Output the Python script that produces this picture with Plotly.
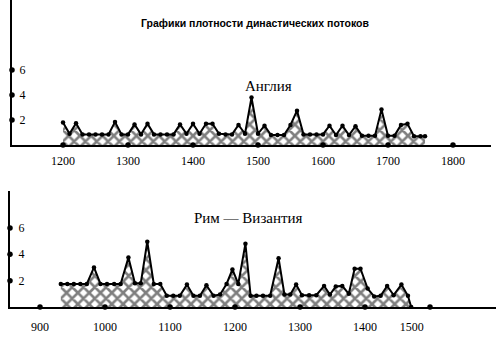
import plotly.graph_objects as go

# --- Англия: density of dynastic flows ---
eng_years = [1200, 1210, 1220, 1230, 1240, 1250, 1260, 1270, 1280, 1290,
             1300, 1310, 1320, 1330, 1340, 1350, 1360, 1370, 1380, 1390,
             1400, 1410, 1420, 1430, 1440, 1450, 1460, 1470, 1480, 1490,
             1500, 1510, 1520, 1530, 1540, 1550, 1560, 1570, 1580, 1590,
             1600, 1610, 1620, 1630, 1640, 1650, 1660, 1670, 1680, 1690,
             1700, 1710, 1720, 1730, 1740, 1750, 1757]
eng_vals = [1.8, 0.9, 1.75, 0.85, 0.85, 0.85, 0.85, 0.85, 1.85, 0.85,
            0.85, 1.65, 0.85, 1.7, 0.85, 0.85, 0.85, 0.85, 1.65, 0.9,
            1.7, 0.9, 1.7, 1.7, 0.9, 0.85, 0.85, 1.6, 0.9, 3.8,
            0.9, 1.55, 0.8, 0.8, 0.8, 1.6, 2.75, 0.85, 0.85, 0.85,
            0.85, 1.55, 0.8, 1.55, 0.8, 1.5, 0.75, 0.75, 0.75, 2.85,
            0.75, 0.75, 1.6, 1.7, 0.7, 0.7, 0.7]

# --- Рим — Византия ---
byz_years = [932, 942, 952, 962, 972, 983, 993, 1003, 1014, 1024,
             1036, 1046, 1055, 1065, 1075, 1085, 1095, 1105, 1115, 1126,
             1136, 1146, 1156, 1167, 1177, 1187, 1196, 1205, 1216, 1224,
             1233, 1243, 1254, 1267, 1276, 1285, 1294, 1303, 1314, 1325,
             1337, 1346, 1355, 1365, 1375, 1384, 1393, 1404, 1414, 1424,
             1434, 1444, 1456, 1466, 1471]
byz_vals = [1.75, 1.75, 1.75, 1.75, 1.75, 3.0, 1.75, 1.75, 1.75, 1.75,
            3.75, 1.8, 1.8, 4.95, 1.75, 1.75, 0.85, 0.85, 0.85, 1.7,
            0.85, 0.85, 1.65, 0.85, 0.95, 1.75, 2.85, 1.75, 4.8, 0.85,
            0.85, 0.85, 0.85, 3.7, 0.95, 0.95, 1.7, 0.9, 0.9, 0.9,
            1.6, 0.95, 1.55, 1.6, 1.0, 2.9, 2.9, 1.4, 0.8, 0.85,
            1.6, 0.9, 1.7, 0.85, 0.0]

# Axis ticks
eng_ticks = [1200, 1300, 1400, 1500, 1600, 1700, 1800]
byz_tick_dots = [900, 1000, 1100, 1200, 1300, 1400, 1500]
byz_label_vals = [900, 1000, 1100, 1200, 1300, 1400, 1472]
byz_label_text = ["900", "1000", "1100", "1200", "1300", "1400", "1500"]
y_ticks = [2, 4, 6]

title_text = "Графики плотности династических потоков"
eng_name = "Англия"
byz_name = "Рим — Византия"

W, H = 500, 338
TOP_X = [1121.5, 1858.5]
BOT_X = [853.8, 1601.5]
TOP_Y = [0, 11.6]
BOT_Y = [0, 8.8]

hatch = dict(shape="x", size=8, solidity=0.55, fgcolor="black", bgcolor="white")
serif = "Liberation Serif"

fig = go.Figure()


def density_trace(xs, ys, xa, ya):
    return go.Scatter(
        x=xs, y=ys, xaxis=xa, yaxis=ya, mode="lines+markers",
        fill="tozeroy", fillcolor="white", fillpattern=hatch,
        line=dict(color="black", width=2),
        marker=dict(size=4.5, color="black"),
        hoverinfo="skip", showlegend=False,
    )


fig.add_trace(density_trace(eng_years, eng_vals, "x", "y"))
fig.add_trace(density_trace(byz_years, byz_vals, "x2", "y2"))

# dots marking the axis divisions
dot = dict(size=5.5, color="black")
fig.add_trace(go.Scatter(x=eng_ticks, y=[0] * len(eng_ticks), xaxis="x", yaxis="y",
                         mode="markers", marker=dot, cliponaxis=False,
                         hoverinfo="skip", showlegend=False))
fig.add_trace(go.Scatter(x=[TOP_X[0]] * len(y_ticks), y=y_ticks, xaxis="x", yaxis="y",
                         mode="markers", marker=dot, cliponaxis=False,
                         hoverinfo="skip", showlegend=False))
fig.add_trace(go.Scatter(x=byz_tick_dots, y=[0] * len(byz_tick_dots), xaxis="x2", yaxis="y2",
                         mode="markers", marker=dot, cliponaxis=False,
                         hoverinfo="skip", showlegend=False))
fig.add_trace(go.Scatter(x=[BOT_X[0]] * len(y_ticks), y=y_ticks, xaxis="x2", yaxis="y2",
                         mode="markers", marker=dot, cliponaxis=False,
                         hoverinfo="skip", showlegend=False))

axis_common = dict(showgrid=False, zeroline=False, showline=True,
                   linecolor="black", linewidth=1.6, ticks="",
                   tickfont=dict(family=serif, size=12, color="black"),
                   fixedrange=True)

fig.update_layout(
    width=W, height=H,
    margin=dict(l=0, r=0, t=0, b=0),
    paper_bgcolor="white", plot_bgcolor="white",
    xaxis=dict(axis_common, domain=[12 / W, 491 / W], range=TOP_X,
               tickvals=eng_ticks, anchor="y", ticklabelstandoff=4),
    yaxis=dict(axis_common, domain=[1 - 145 / H, 1.0], range=TOP_Y,
               tickvals=y_ticks, anchor="x", ticklabelposition="inside",
               ticklabelstandoff=7),
    xaxis2=dict(axis_common, domain=[10 / W, 496 / W], range=BOT_X,
                tickvals=byz_label_vals, ticktext=byz_label_text,
                anchor="y2", ticklabelstandoff=8),
    yaxis2=dict(axis_common, domain=[1 - 307 / H, 1 - 191 / H], range=BOT_Y,
                tickvals=y_ticks, anchor="x2", ticklabelposition="inside",
                ticklabelstandoff=8),
    annotations=[
        dict(text="<b>" + title_text + "</b>", x=255 / W, y=1 - 15 / H,
             xref="paper", yref="paper", showarrow=False,
             font=dict(family="Liberation Sans", size=10.5, color="black")),
        dict(text=eng_name, x=268 / W, y=1 - 76 / H, xref="paper", yref="paper",
             showarrow=False, font=dict(family=serif, size=15, color="black")),
        dict(text=byz_name, x=248 / W, y=1 - 218 / H, xref="paper", yref="paper",
             showarrow=False, font=dict(family=serif, size=15, color="black")),
    ],
)

fig.write_html("out.html")
